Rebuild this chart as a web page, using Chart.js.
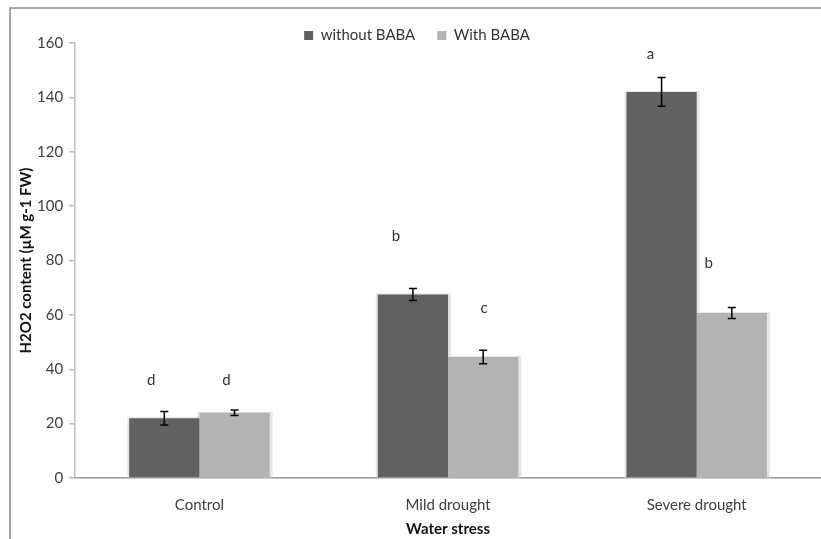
<!DOCTYPE html>
<html>
<head>
<meta charset="utf-8">
<script src="https://cdn.jsdelivr.net/npm/chart.js@4/dist/chart.umd.min.js"></script>
<style>
  html, body { margin: 0; padding: 0; background: #fff; }
  #wrap { position: absolute; left: 0; top: 0; width: 821px; height: 539px; }
</style>
</head>
<body>
<div id="wrap"><canvas id="h2o2Chart"></canvas></div>
<script>
// values
const categories = ['Control', 'Mild drought', 'Severe drought'];
const withoutBaba = [22, 67.5, 142];
const withBaba = [24, 44.5, 60.7];
const withoutBabaErr = [2.5, 2.2, 5.3];
const withBabaErr = [1, 2.5, 2];
const withoutBabaLetters = ['d', 'b', 'a'];
const withBabaLetters = ['d', 'c', 'b'];
const withoutBabaLetterAt = [36, 89, 156];
const withBabaLetterAt = [36, 62.5, 79];
const yMin = 0, yMax = 160, yStep = 20;

const DARK = '#616161';
const LIGHT = '#b3b3b3';
const FONT = 'Lato, "Open Sans", sans-serif';

// letters sit a little off the bar centre in the original
const letterShift = [[-13, -17, -11], [-8, 1, -23]];

const extrasPlugin = {
  id: 'extras',
  beforeInit(chart) {
    // squeeze the legend block so the plot top lands where it should
    const fit = chart.legend.fit;
    chart.legend.fit = function () {
      fit.call(this);
      this.height = 37;
    };
  },
  beforeDraw(chart) {
    const ctx = chart.ctx;
    ctx.save();
    ctx.strokeStyle = '#8c8c8c';
    ctx.lineWidth = 1.5;
    ctx.beginPath();
    ctx.moveTo(10, 539);
    ctx.lineTo(10, 8);
    ctx.lineTo(821, 8);
    ctx.stroke();
    ctx.restore();
  },
  beforeDatasetsDraw(chart) {
    // faint shadow on bar edges
    const ctx = chart.ctx;
    ctx.save();
    ctx.fillStyle = '#e6e6e6';
    chart.data.datasets.forEach((ds, di) => {
      chart.getDatasetMeta(di).data.forEach(bar => {
        const left = bar.x - bar.width / 2;
        ctx.fillRect(left - 2, bar.y - 1, bar.width + 5, bar.base - bar.y + 1);
      });
    });
    ctx.restore();
  },
  afterDatasetsDraw(chart) {
    const ctx = chart.ctx;
    const y = chart.scales.y;
    const errs = [withoutBabaErr, withBabaErr];
    const letters = [withoutBabaLetters, withBabaLetters];
    const letterAt = [withoutBabaLetterAt, withBabaLetterAt];
    ctx.save();
    chart.data.datasets.forEach((ds, di) => {
      chart.getDatasetMeta(di).data.forEach((bar, i) => {
        const v = ds.data[i];
        const top = y.getPixelForValue(v + errs[di][i]);
        const bot = y.getPixelForValue(v - errs[di][i]);
        ctx.strokeStyle = '#000';
        ctx.lineWidth = 1.5;
        ctx.beginPath();
        ctx.moveTo(bar.x, top); ctx.lineTo(bar.x, bot);
        ctx.moveTo(bar.x - 4, top); ctx.lineTo(bar.x + 4, top);
        ctx.moveTo(bar.x - 4, bot); ctx.lineTo(bar.x + 4, bot);
        ctx.stroke();

        ctx.fillStyle = '#333';
        ctx.font = '15px ' + FONT;
        ctx.textAlign = 'center';
        ctx.textBaseline = 'middle';
        ctx.fillText(letters[di][i], bar.x + letterShift[di][i], y.getPixelForValue(letterAt[di][i]));
      });
    });
    ctx.restore();
  }
};

new Chart(document.getElementById('h2o2Chart'), {
  type: 'bar',
  data: {
    labels: categories,
    datasets: [
      { label: 'without BABA', data: withoutBaba, backgroundColor: DARK, borderWidth: 0 },
      { label: 'With BABA', data: withBaba, backgroundColor: LIGHT, borderWidth: 0 }
    ]
  },
  options: {
    responsive: true,
    maintainAspectRatio: false,
    animation: false,
    datasets: { bar: { categoryPercentage: 0.565, barPercentage: 1 } },
    layout: { padding: { top: 6, left: 13, right: 0, bottom: 1 } },
    scales: {
      x: {
        grid: { drawOnChartArea: false, drawTicks: false },
        border: { color: '#9a9a9a', width: 1.5 },
        ticks: { color: '#404040', font: { family: FONT, size: 15 }, padding: 18 },
        title: {
          display: true, text: 'Water stress', color: '#111',
          font: { family: FONT, size: 15, weight: 'bold' }, padding: { top: -12, bottom: 0 }
        }
      },
      y: {
        min: yMin, max: yMax,
        grid: { drawOnChartArea: false, tickLength: 6, color: '#bdbdbd', lineWidth: 1.5 },
        border: { color: '#bdbdbd', width: 1.5 },
        ticks: { stepSize: yStep, color: '#404040', font: { family: FONT, size: 15 }, padding: 6 },
        title: {
          display: true, text: 'H2O2 content (µM g-1 FW)', color: '#111',
          font: { family: FONT, size: 15, weight: 'bold' }, padding: { top: 4, bottom: -4 }
        }
      }
    },
    plugins: {
      legend: {
        position: 'top',
        labels: {
          boxWidth: 9, boxHeight: 9, padding: 22, color: '#333',
          font: { family: FONT, size: 15 }
        }
      },
      tooltip: { enabled: false }
    }
  },
  plugins: [extrasPlugin]
});
</script>
</body>
</html>
